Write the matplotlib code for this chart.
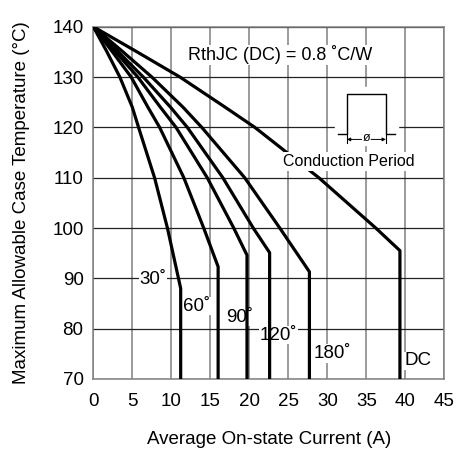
import matplotlib.pyplot as plt

plt.rcParams["font.family"] = ["Liberation Sans", "DejaVu Sans"]

# curve data: (current A, case temperature degC)
CUR_30 = [0, 1.75, 3.4, 5.0, 5.8, 7.85, 9.5, 11.2, 11.2]
TEMP_30 = [140, 135, 130, 124, 120, 110, 100, 88.0, 70]
CUR_60 = [0, 2.45, 4.85, 7.0, 8.5, 11.6, 14.15, 16.0, 16.0]
TEMP_60 = [140, 135, 130, 124, 120, 110, 100, 92.3, 70]
CUR_90 = [0, 2.85, 5.7, 8.6, 10.6, 14.6, 18.0, 19.7, 19.7]
TEMP_90 = [140, 135, 130, 124, 120, 110, 100, 94.6, 70]
CUR_120 = [0, 3.2, 6.4, 9.9, 12.05, 16.6, 20.5, 22.6, 22.6]
TEMP_120 = [140, 135, 130, 124, 120, 110, 100, 95.1, 70]
CUR_180 = [0, 3.8, 7.5, 11.5, 13.9, 19.4, 23.9, 27.7, 27.7]
TEMP_180 = [140, 135, 130, 124, 120, 110, 100, 91.3, 70]
CUR_DC = [0, 5.6, 11.1, 16.9, 20.7, 28.9, 36.2, 39.3, 39.3]
TEMP_DC = [140, 135, 130, 124, 120, 110, 100, 95.5, 70]

CURVES = [
    (CUR_30, TEMP_30, "30˚", (7.65, 89.8)),
    (CUR_60, TEMP_60, "60˚", (13.3, 84.5)),
    (CUR_90, TEMP_90, "90˚", (18.7, 82.3)),
    (CUR_120, TEMP_120, "120˚", (23.7, 78.7)),
    (CUR_180, TEMP_180, "180˚", (30.6, 75.1)),
    (CUR_DC, TEMP_DC, "DC", (41.6, 73.6)),
]

X_TICKS = list(range(0, 46, 5))
Y_TICKS = list(range(70, 141, 10))

fig = plt.figure(figsize=(4.58, 4.5), dpi=100)
ax = fig.add_axes([0.2037, 0.1578, 0.7666, 0.7829])

for x in X_TICKS:
    ax.axvline(x, color="#808080", linewidth=1.1, zorder=1)
for y in Y_TICKS:
    ax.axhline(y, color="#222222", linewidth=0.9, zorder=1)

for cur, temp, label, (lx, ly) in CURVES:
    ax.plot(cur, temp, color="black", linewidth=2.3, solid_joinstyle="round", zorder=3)
    ax.text(lx, ly, label, fontsize=13.5, ha="center", va="center", zorder=2,
            bbox=dict(facecolor="white", edgecolor="none", pad=0.5))

ax.text(23.9, 134.4, "RthJC (DC) = 0.8 ˚C/W", fontsize=13, ha="center", va="center",
        zorder=4, bbox=dict(facecolor="white", edgecolor="none", pad=0.5))
ax.text(32.7, 113.2, "Conduction Period", fontsize=11.5, ha="center", va="center",
        zorder=4, bbox=dict(facecolor="white", edgecolor="none", pad=1.5))

# conduction period symbol
ax.fill_between([31.0, 39.0], 116.5, 128.0, color="white", zorder=4)
ax.plot([31.3, 32.5, 32.5, 37.5, 37.5, 38.7], [118.7, 118.7, 126.6, 126.6, 118.7, 118.7],
        color="black", linewidth=1.0, zorder=5)
ax.plot([32.5, 32.5], [118.7, 116.9], color="black", linewidth=0.8, zorder=5)
ax.plot([37.5, 37.5], [118.7, 116.9], color="black", linewidth=0.8, zorder=5)
for x_end, x_start in ((32.5, 34.4), (37.5, 35.6)):
    ax.annotate("", xy=(x_end, 117.6), xytext=(x_start, 117.6), zorder=5,
                arrowprops=dict(arrowstyle="-|>", color="black", lw=0.7,
                                mutation_scale=5, shrinkA=0, shrinkB=0))
ax.text(35.0, 117.8, "ø", fontsize=9, ha="center", va="center", zorder=5)

ax.set_xlim(0, 45)
ax.set_ylim(70, 140)
ax.set_xticks(X_TICKS)
ax.set_yticks(Y_TICKS)
ax.tick_params(length=0, labelsize=13.5)
ax.tick_params(axis="x", pad=10)
ax.tick_params(axis="y", pad=7)
for spine in ax.spines.values():
    spine.set_color("#808080")
    spine.set_linewidth(1.1)

ax.set_xlabel("Average On-state Current (A)", fontsize=13.5, labelpad=15)
ax.set_ylabel("Maximum Allowable Case Temperature (°C)", fontsize=13.5, labelpad=16)

fig.savefig("out.png", dpi=100)
